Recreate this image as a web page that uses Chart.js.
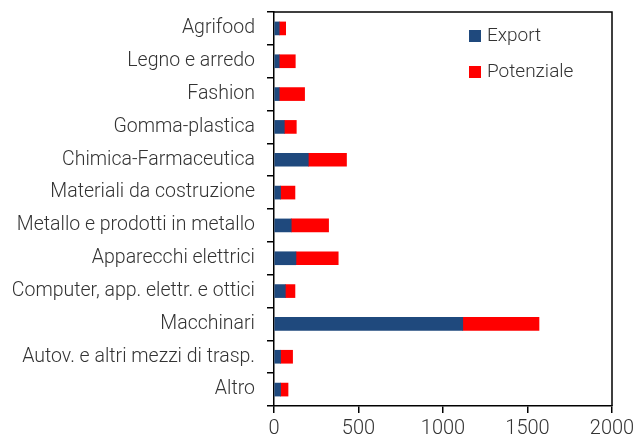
<!DOCTYPE html>
<html><head><meta charset="utf-8">
<script src="https://cdn.jsdelivr.net/npm/chart.js@4.4.0/dist/chart.umd.min.js"></script>
<style>html,body{margin:0;padding:0;background:#fff;}canvas{display:block;}</style>
</head><body>
<canvas id="c" width="641" height="443"></canvas>
<script>
const categories = ["Agrifood","Legno e arredo","Fashion","Gomma-plastica","Chimica-Farmaceutica","Materiali da costruzione","Metallo e prodotti in metallo","Apparecchi elettrici","Computer, app. elettr. e ottici","Macchinari","Autov. e altri mezzi di trasp.","Altro"];
const exportValues = [31,31,31,61,203,39,102,130,67,1117,39,39];
const potenzialeValues = [38,95,150,71,226,85,221,250,57,451,71,44];
const seriesNames = ["Export","Potenziale"];
const xTicks = [0,500,1000,1500,2000];

const textColor = '#333333';
const fontFamily = 'Roboto';

const framePlugin = {
  id: 'frame',
  afterDraw(chart) {
    const {ctx, chartArea: a} = chart;
    ctx.save();
    ctx.strokeStyle = '#000';
    ctx.lineWidth = 1.5;
    ctx.beginPath();
    ctx.moveTo(a.left, a.top); ctx.lineTo(a.right, a.top); ctx.lineTo(a.right, a.bottom);
    ctx.stroke();
    const colors = ['#1f497d', '#ff0000'];
    ctx.font = '300 19px ' + fontFamily;
    ctx.textBaseline = 'middle';
    seriesNames.forEach((n, i) => {
      const y = a.top + 24 + i * 36;
      const x = a.left + 195;
      ctx.fillStyle = colors[i];
      ctx.fillRect(x, y - 6, 12, 12);
      ctx.fillStyle = textColor;
      ctx.fillText(n, x + 18, y);
    });
    ctx.restore();
  }
};

new Chart(document.getElementById('c'), {
  type: 'bar',
  data: {
    labels: categories,
    datasets: [
      {label: seriesNames[0], data: exportValues, backgroundColor: '#1f497d', barThickness: 13},
      {label: seriesNames[1], data: potenzialeValues, backgroundColor: '#ff0000', barThickness: 13}
    ]
  },
  options: {
    indexAxis: 'y',
    responsive: false,
    animation: false,
    layout: {padding: {top: 12, right: 29, left: 0, bottom: 0}},
    plugins: {legend: {display: false}, tooltip: {enabled: false}},
    scales: {
      x: {
        stacked: true, min: 0, max: 2000,
        afterBuildTicks(s) { s.ticks = xTicks.map(v => ({value: v})); },
        afterFit(s) { s.height = 37; s.paddingLeft = 0; s.paddingRight = 0; },
        border: {color: '#000', width: 1.5},
        grid: {drawOnChartArea: false, color: '#000', tickLength: 7, lineWidth: 1.5},
        ticks: {color: textColor, font: {family: fontFamily, size: 20, weight: 300}, padding: 4, maxRotation: 0,
          callback: v => String(v)}
      },
      y: {
        stacked: true,
        afterFit(s) { s.width = 274; s.paddingTop = 0; s.paddingBottom = 0; },
        border: {color: '#000', width: 1.5},
        grid: {drawOnChartArea: false, color: '#000', tickLength: 7, lineWidth: 1.5, offset: true},
        ticks: {color: textColor, font: {family: fontFamily, size: 19.5, weight: 300}, padding: 12}
      }
    }
  },
  plugins: [framePlugin]
});
</script>
</body></html>
